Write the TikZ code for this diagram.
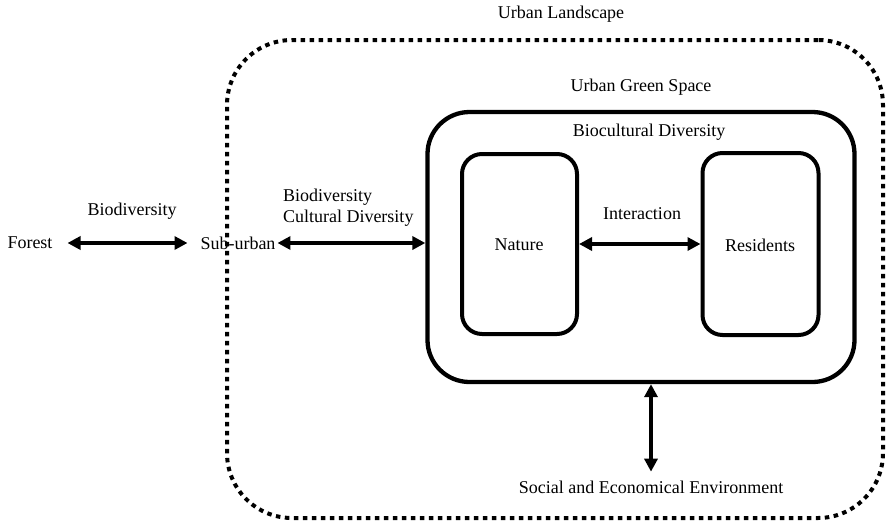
\documentclass[tikz,border=0pt]{standalone}
\usepackage{fontspec}
\setmainfont{Liberation Serif}
\usetikzlibrary{arrows.meta}
\begin{document}
\begin{tikzpicture}[x=1pt,y=-1pt,
  font=\fontsize{18}{21}\selectfont,
  lbl/.style={inner sep=0pt, outer sep=0pt, align=center},
  outerbox/.style={draw, line width=4pt, dash pattern=on 4.5pt off 4.5pt, rounded corners=65pt},
  greenbox/.style={draw, line width=4.3pt, rounded corners=42pt},
  innerbox/.style={draw, line width=4pt, rounded corners=20pt},
  dblarrow/.style={line width=3.5pt, {Triangle[length=13pt,width=13pt]}-{Triangle[length=13pt,width=13pt]}, shorten <=0pt, shorten >=0pt}
]
\useasboundingbox (0,0) rectangle (886,523);
% outer urban landscape
\node[outerbox, minimum width=656pt, minimum height=478pt] (land) at (555,279) {};
\node[lbl] (landlbl) at (561,14) {Urban Landscape};
% green space
\node[greenbox, minimum width=427pt, minimum height=270pt] (green) at (641,247) {};
\node[lbl] (greenlbl) at (641,87) {Urban Green Space};
\node[lbl] (biocult) at (649,132) {Biocultural Diversity};
% nature and residents
\node[innerbox, minimum width=115pt, minimum height=180pt] (nature) at (519.5,244) {};
\node[lbl] (naturelbl) at (519,245) {Nature};
\node[innerbox, minimum width=116pt, minimum height=182pt] (res) at (760.5,244) {};
\node[lbl] (reslbl) at (760,245) {Residents};
\node[lbl] (inter) at (642,214) {Interaction};
\draw[dblarrow] (nature.east) -- (res.west);
% left side
\node[lbl] (forest) at (30,243) {Forest};
\node[lbl] (sub) at (238,243) {Sub-urban};
\node[lbl] (biodiv) at (132,211) {Biodiversity};
\node[lbl, anchor=west, align=left] (bcd) at (283,207.5) {Biodiversity\\Cultural Diversity};
\draw[dblarrow] ([xshift=15pt]forest.east) -- ([xshift=-13pt]sub.west);
\draw[dblarrow] ([xshift=2pt]sub.east) -- (sub.east -| green.west);
% bottom
\node[lbl] (soc) at (651,487) {Social and Economical Environment};
\draw[dblarrow] ([xshift=10pt]green.south) -- ([yshift=9pt]soc.north -| 651,0);
\end{tikzpicture}
\end{document}
